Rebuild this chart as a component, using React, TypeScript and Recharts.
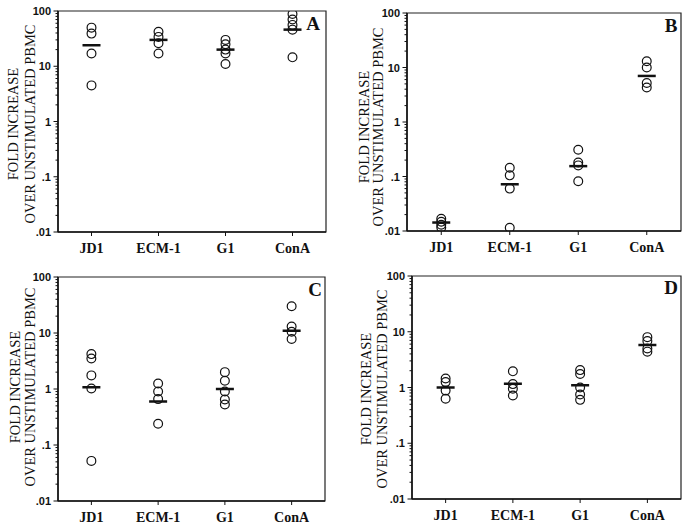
import React from "react";
import { ScatterChart, Scatter, XAxis, YAxis, ReferenceArea } from "recharts";

const categories = ["JD1", "ECM-1", "G1", "ConA"];
const yMajorTicks = [0.01, 0.1, 1, 10, 100];
const yTickLabels = [".01", ".1", "1", "10", "100"];
const titleLines = ["FOLD INCREASE", "OVER UNSTIMULATED PBMC"];

// fold increase, one list per category
const panelAValues = [
  [50, 39, 17, 4.5],
  [42, 34, 26, 17],
  [30, 25, 20, 17, 11],
  [88, 70, 56, 46, 14.5],
];
const panelAMeans = [24, 30, 20, 46];

const panelBValues = [
  [0.0168, 0.0148, 0.013, 0.0116],
  [0.145, 0.105, 0.06, 0.0115],
  [0.31, 0.18, 0.16, 0.082],
  [13, 10, 5.2, 4.3],
];
const panelBMeans = [0.0143, 0.072, 0.155, 7.0];

const panelCValues = [
  [4.2, 3.5, 1.75, 1.02, 0.052],
  [1.25, 0.9, 0.66, 0.24],
  [2.0, 1.4, 0.9, 0.65, 0.53],
  [30, 13, 10.5, 7.8],
];
const panelCMeans = [1.08, 0.6, 1.0, 11];

const panelDValues = [
  [1.45, 1.25, 0.88, 0.63],
  [1.95, 1.15, 0.95, 0.72],
  [2.05, 1.75, 1.0, 0.75, 0.6],
  [8.0, 6.8, 5.0, 4.4],
];
const panelDMeans = [1.0, 1.17, 1.1, 5.8];

// log axis ticks: majors plus 2..9 minors in every decade
const yAllTicks: number[] = [];
yMajorTicks.slice(0, -1).forEach((d) => {
  for (let m = 1; m <= 9; m++) yAllTicks.push(+(d * m).toPrecision(3));
});
yAllTicks.push(100);

const SERIF = "'Liberation Serif', 'Times New Roman', serif";
const SANS = "'Liberation Sans', Arial, sans-serif";

const W = 345;
const H = 264;
const Y_AXIS_W = 40;
const X_AXIS_H = 20;

type Plot = { l: number; t: number; r: number; b: number };

function YTick(props: any) {
  const { x, y, payload } = props;
  const v = payload.value;
  const idx = yMajorTicks.findIndex((m) => Math.abs(m - v) / m < 1e-6);
  const major = idx >= 0;
  return (
    <g>
      <line x1={x - (major ? 4.5 : 2.5)} x2={x} y1={y} y2={y} stroke="#111" strokeWidth={1} />
      {major && (
        <text
          x={x - 7}
          y={y + 4}
          textAnchor="end"
          fontFamily={SANS}
          fontWeight="bold"
          fontSize={11}
          fill="#111"
        >
          {yTickLabels[idx]}
        </text>
      )}
    </g>
  );
}

function XTick(props: any) {
  const { x, y, payload } = props;
  return (
    <g>
      <line x1={x} x2={x} y1={y} y2={y + 4} stroke="#111" strokeWidth={1} />
      <text
        x={x}
        y={y + 21}
        textAnchor="middle"
        fontFamily={SERIF}
        fontWeight="bold"
        fontSize={14}
        fill="#111"
      >
        {categories[Math.floor(payload.value)]}
      </text>
    </g>
  );
}

function Circle(p: any) {
  return <circle cx={p.cx} cy={p.cy} r={4.4} fill="none" stroke="#111" strokeWidth={1.2} />;
}

function MeanBar(p: any) {
  return <line x1={p.cx - 9} x2={p.cx + 9} y1={p.cy} y2={p.cy} stroke="#111" strokeWidth={2.5} />;
}

function Panel({
  values,
  means,
  ox,
  oy,
  plot,
}: {
  values: number[][];
  means: number[];
  ox: number;
  oy: number;
  plot: Plot;
}) {
  const points = values.flatMap((vals, i) => vals.map((y) => ({ x: i + 0.5, y })));
  const meanPts = means.map((y, i) => ({ x: i + 0.5, y }));
  const margin = {
    top: plot.t - oy,
    left: plot.l - ox - Y_AXIS_W,
    right: ox + W - plot.r,
    bottom: oy + H - plot.b - X_AXIS_H,
  };
  return (
    <div style={{ position: "absolute", left: ox, top: oy }}>
      <ScatterChart width={W} height={H} margin={margin} style={{ overflow: "visible" }}>
        <XAxis
          type="number"
          dataKey="x"
          domain={[0, 4]}
          ticks={[0.5, 1.5, 2.5, 3.5]}
          height={X_AXIS_H}
          axisLine={{ stroke: "#111", strokeWidth: 1.5 }}
          tickLine={false}
          tickSize={0}
          tickMargin={0}
          tick={XTick}
          interval={0}
        />
        <YAxis
          type="number"
          dataKey="y"
          scale="log"
          domain={[0.01, 100]}
          ticks={yAllTicks}
          allowDataOverflow
          width={Y_AXIS_W}
          axisLine={{ stroke: "#111", strokeWidth: 1.5 }}
          tickLine={false}
          tickSize={0}
          tickMargin={0}
          tick={YTick}
          interval={0}
        />
        <ReferenceArea x1={0} x2={4} y1={0.01} y2={100} fill="none" stroke="#222" strokeWidth={1.2} />
        <Scatter data={points} shape={Circle} isAnimationActive={false} />
        <Scatter data={meanPts} shape={MeanBar} isAnimationActive={false} />
      </ScatterChart>
    </div>
  );
}

const titles = [
  { x1: 13, x2: 30, cy: 124 },
  { x1: 364, x2: 378, cy: 127 },
  { x1: 15, x2: 30, cy: 387 },
  { x1: 366, x2: 382, cy: 389 },
];
const letters = [
  { t: "A", x: 313, y: 23 },
  { t: "B", x: 671, y: 25 },
  { t: "C", x: 315, y: 289 },
  { t: "D", x: 671, y: 287 },
];

export default function App() {
  return (
    <div
      style={{
        position: "absolute",
        left: 0,
        top: 0,
        width: 689,
        height: 528,
        background: "#fff",
        overflow: "hidden",
      }}
    >
      <Panel values={panelAValues} means={panelAMeans} ox={0} oy={0} plot={{ l: 58, t: 11, r: 326, b: 232 }} />
      <Panel values={panelBValues} means={panelBMeans} ox={344} oy={0} plot={{ l: 407, t: 13, r: 681, b: 231 }} />
      <Panel values={panelCValues} means={panelCMeans} ox={0} oy={264} plot={{ l: 58, t: 277, r: 325, b: 501 }} />
      <Panel values={panelDValues} means={panelDMeans} ox={344} oy={264} plot={{ l: 412, t: 276, r: 681, b: 499 }} />
      <svg
        width={689}
        height={528}
        style={{ position: "absolute", left: 0, top: 0, pointerEvents: "none" }}
      >
        {titles.map((p, i) =>
          [p.x1, p.x2].map((cx, j) => (
            <text
              key={`${i}-${j}`}
              x={cx + 4.6}
              y={p.cy}
              transform={`rotate(-90 ${cx + 4.6} ${p.cy})`}
              textAnchor="middle"
              fontFamily={SERIF}
              fontSize={14.5}
              fill="#111"
            >
              {titleLines[j]}
            </text>
          ))
        )}
        {letters.map((l) => (
          <text
            key={l.t}
            x={l.x}
            y={l.y + 6.5}
            textAnchor="middle"
            fontFamily={SERIF}
            fontWeight="bold"
            fontSize={19}
            fill="#111"
          >
            {l.t}
          </text>
        ))}
      </svg>
    </div>
  );
}
